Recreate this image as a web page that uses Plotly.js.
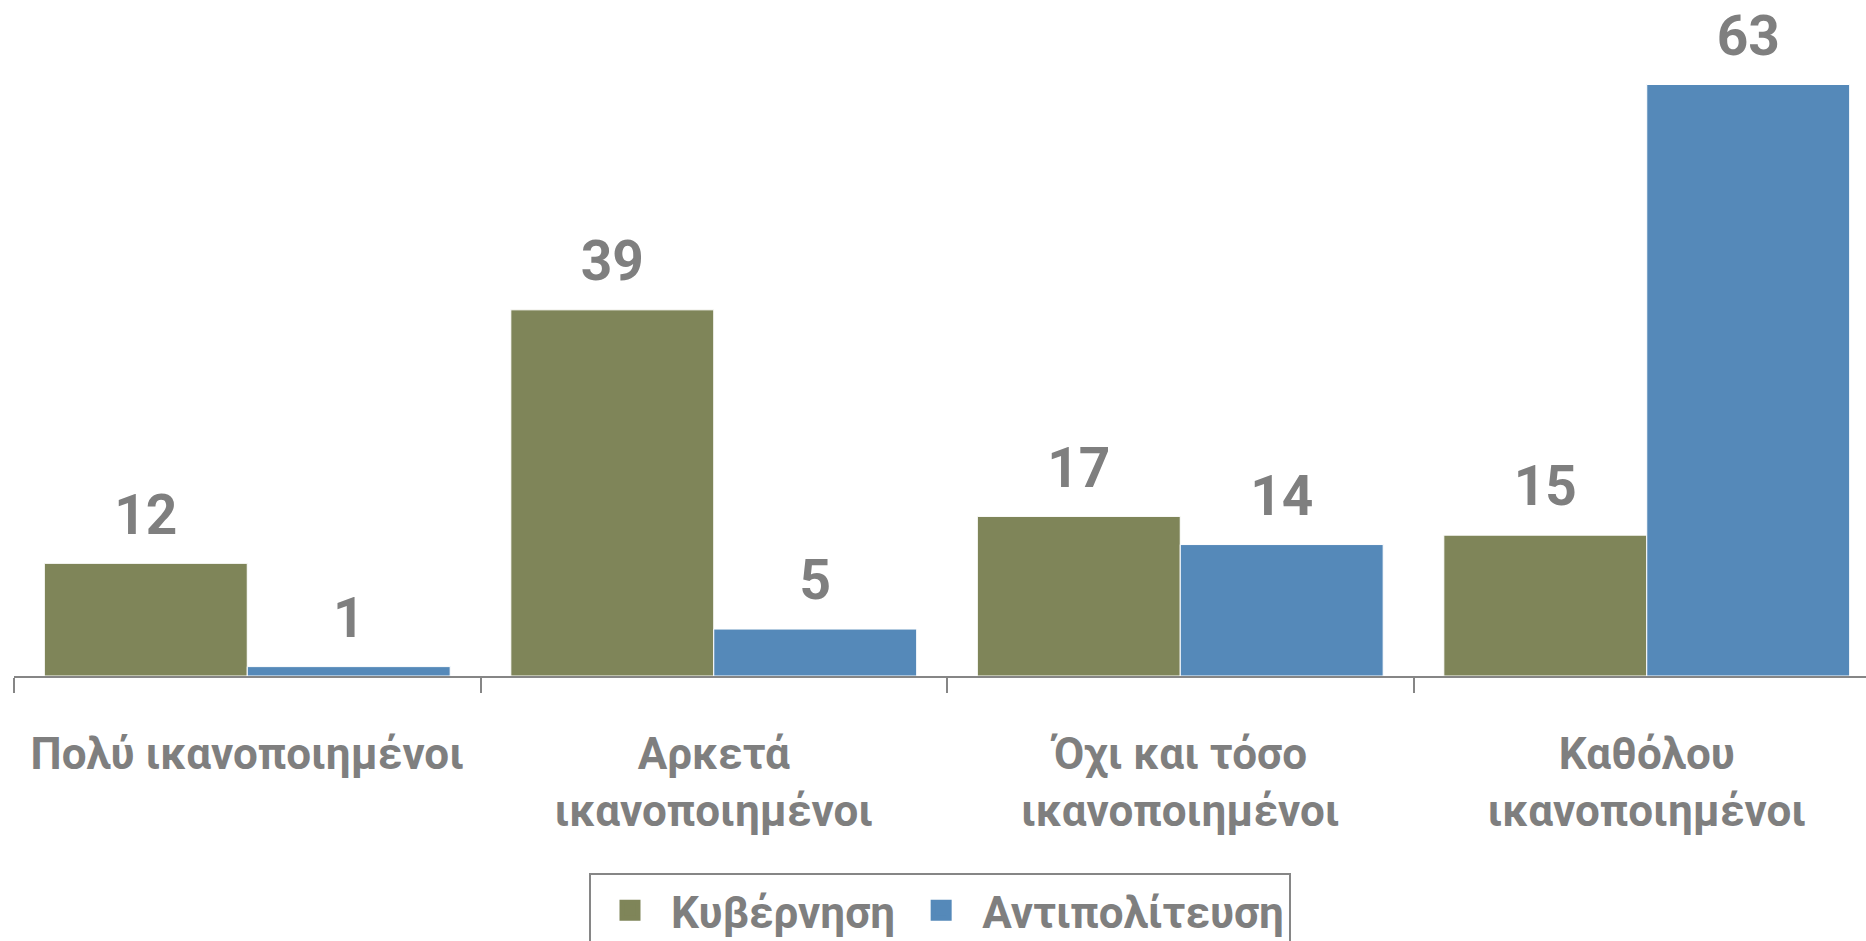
<!DOCTYPE html>
<html>
<head>
<meta charset="utf-8">
<script src="https://cdn.plot.ly/plotly-3.0.1.min.js"></script>
<style>html,body{margin:0;padding:0;background:#fff;}#chart{width:1866px;height:941px;}</style>
</head>
<body>
<div id="chart"></div>
<script>
const categories = ["Πολύ ικανοποιημένοι", "Αρκετά<br>ικανοποιημένοι", "Όχι και τόσο<br>ικανοποιημένοι", "Καθόλου<br>ικανοποιημένοι"];
const seriesNames = ["Κυβέρνηση", "Αντιπολίτευση"];
const government = [12, 39, 17, 15];
const opposition = [1, 5, 14, 63];
const colors = ["#7f8559", "#5589b9"];

const gray = "#7f7f7f";
const txtFont = "Roboto, 'Open Sans', sans-serif";

const seriesValues = [government, opposition];

const traces = [];
seriesValues.forEach((vals, i) => {
  traces.push({
    type: "bar", name: seriesNames[i], x: categories, y: vals,
    offsetgroup: "g" + i, legendgroup: "g" + i, showlegend: false,
    marker: {color: colors[i], line: {color: "#ffffff", width: 1}},
    hoverinfo: "x+y"
  });
});
seriesValues.forEach((vals, i) => {
  traces.push({
    type: "scatter", mode: "markers+text", name: seriesNames[i] + " labels",
    x: categories, y: vals, text: vals.map(String), textposition: "top center",
    offsetgroup: "g" + i, legendgroup: "g" + i, showlegend: false, cliponaxis: false,
    marker: {size: 24, opacity: 0, color: colors[i]},
    textfont: {family: txtFont, size: 55, color: gray, weight: "bold"},
    hoverinfo: "skip"
  });
});
// legend entries (no points drawn)
seriesNames.forEach((name, i) => {
  traces.push({
    type: "scatter", mode: "markers", name: name, x: [null], y: [null],
    offsetgroup: "g" + i, legendgroup: "g" + i, showlegend: true,
    marker: {symbol: "square", size: 16, color: colors[i], line: {color: colors[i], width: 5}},
    hoverinfo: "skip"
  });
});

const layout = {
  width: 1866, height: 941,
  margin: {l: 14, r: 0, t: 0, b: 265},
  paper_bgcolor: "#ffffff", plot_bgcolor: "#ffffff",
  barmode: "group", bargap: 0.13, bargroupgap: 0,
  scattermode: "group", scattergap: 0.13,
  font: {family: txtFont, color: gray},
  xaxis: {
    type: "category", range: [-0.5, 3.47],
    showline: true, linecolor: "#868686", linewidth: 2,
    ticks: "outside", tickson: "boundaries", ticklen: 15, tickwidth: 2, tickcolor: "#868686",
    tickfont: {family: txtFont, size: 44, color: gray, weight: "bold"},
    ticklabelstandoff: 38, showgrid: false, zeroline: false
  },
  yaxis: {range: [0, 72], visible: false, showgrid: false, zeroline: false, fixedrange: true},
  showlegend: true,
  legend: {
    orientation: "h", x: 0.5, xanchor: "center", xref: "paper",
    y: 0.072, yanchor: "top", yref: "container",
    bordercolor: "#868686", borderwidth: 2, bgcolor: "#ffffff",
    itemwidth: 72, itemsizing: "trace",
    font: {family: txtFont, size: 44, color: gray, weight: "bold"}
  }
};

Plotly.newPlot("chart", traces, layout, {displayModeBar: false, staticPlot: true});
</script>
</body>
</html>
